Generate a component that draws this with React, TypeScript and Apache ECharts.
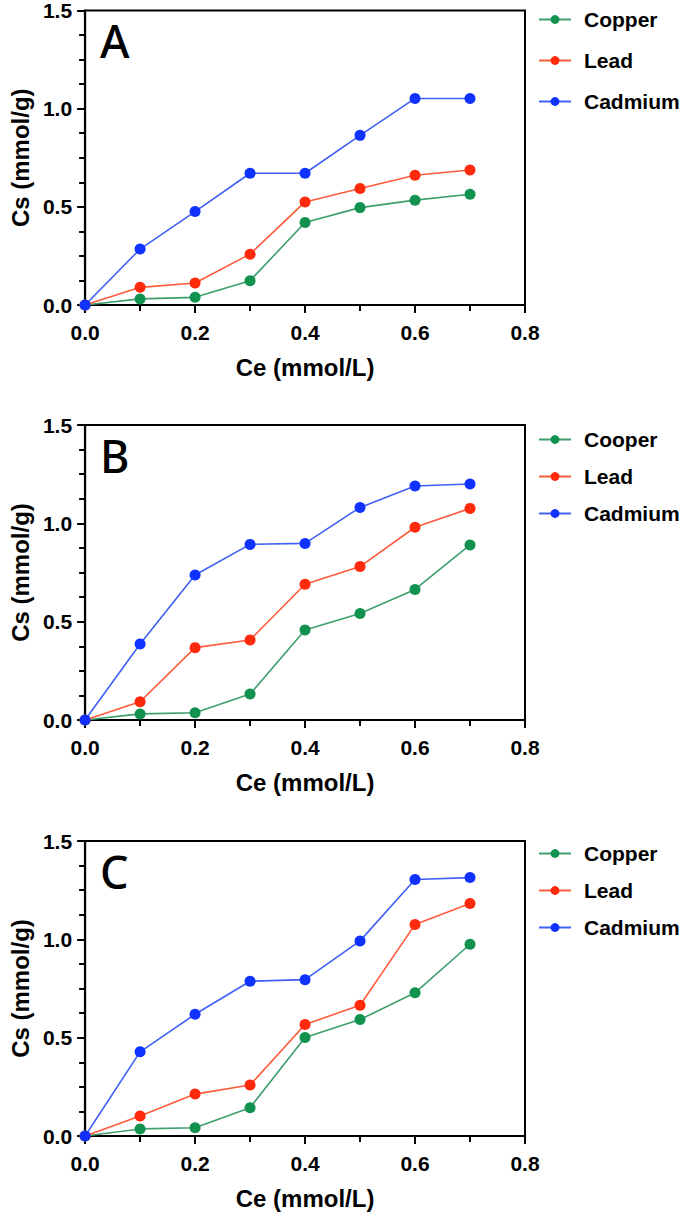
import React, { useEffect, useRef } from "react";
import * as echarts from "echarts";

const ce = [0, 0.1, 0.2, 0.3, 0.4, 0.5, 0.6, 0.7];

const copperA = [0, 0.031, 0.039, 0.124, 0.42, 0.496, 0.534, 0.564];
const leadA = [0, 0.09, 0.112, 0.259, 0.525, 0.593, 0.661, 0.688];
const cadmiumA = [0, 0.285, 0.476, 0.671, 0.671, 0.864, 1.052, 1.052];

const copperB = [0, 0.031, 0.037, 0.132, 0.458, 0.542, 0.664, 0.89];
const leadB = [0, 0.093, 0.368, 0.407, 0.69, 0.78, 0.98, 1.076];
const cadmiumB = [0, 0.386, 0.737, 0.893, 0.898, 1.081, 1.19, 1.2];

const copperC = [0, 0.036, 0.042, 0.144, 0.501, 0.592, 0.728, 0.975];
const leadC = [0, 0.102, 0.213, 0.259, 0.567, 0.665, 1.075, 1.182];
const cadmiumC = [0, 0.428, 0.619, 0.787, 0.795, 0.992, 1.304, 1.314];

const panelLetters = ["A", "B", "C"];
const copperNames = ["Copper", "Cooper", "Copper"];
const xTitle = "Ce (mmol/L)";
const yTitle = "Cs (mmol/g)";

const GREEN = "#12924f";
const RED = "#ff2a0c";
const BLUE = "#0f32ff";
const GREEN_L = "#3d9f6c";
const RED_L = "#ff5a3c";
const BLUE_L = "#4060f5";

const FONT = "'Liberation Sans', Arial, Helvetica, sans-serif";

export default function App() {
  const ref = useRef<HTMLDivElement>(null);
  useEffect(() => {
    document.body.style.margin = "0";
    if (!ref.current) return;
    const chart = echarts.init(ref.current, undefined, { renderer: "svg" });

    const tops = [10, 425, 841];
    const legendTops = [4, 424, 838];
    const legendGaps = [20, 16, 16];
    const sets = [
      [copperA, leadA, cadmiumA],
      [copperB, leadB, cadmiumB],
      [copperC, leadC, cadmiumC],
    ];

    const grid = tops.map((t) => ({
      left: 83,
      top: t,
      width: 442,
      height: 295,
      show: true,
      borderColor: "#000",
      borderWidth: 2,
      backgroundColor: "transparent",
    }));

    const axisLine = { show: true, lineStyle: { color: "#000", width: 2.2 } };

    const xAxis = tops.map((_, i) => ({
      type: "value",
      gridIndex: i,
      min: 0,
      max: 0.8,
      interval: 0.2,
      name: xTitle,
      nameLocation: "middle",
      nameGap: 50,
      nameTextStyle: { fontFamily: FONT, fontWeight: "bold", fontSize: 24, color: "#000" },
      axisLine,
      axisTick: { show: true, inside: false, length: 8, lineStyle: { color: "#000", width: 2 } },
      minorTick: { show: true, splitNumber: 2, length: 6, lineStyle: { color: "#000", width: 2 } },
      splitLine: { show: false },
      axisLabel: {
        margin: 17,
        fontFamily: FONT,
        fontWeight: "bold",
        fontSize: 21,
        color: "#000",
        formatter: (v: number) => v.toFixed(1),
      },
    }));

    const yAxis = tops.map((_, i) => ({
      type: "value",
      gridIndex: i,
      min: 0,
      max: 1.5,
      interval: 0.5,
      name: yTitle,
      nameLocation: "middle",
      nameGap: 45,
      nameTextStyle: { fontFamily: FONT, fontWeight: "bold", fontSize: 24, color: "#000" },
      axisLine,
      axisTick: { show: true, inside: false, length: 8, lineStyle: { color: "#000", width: 2 } },
      minorTick: { show: true, splitNumber: 4, length: 6, lineStyle: { color: "#000", width: 2 } },
      splitLine: { show: false },
      axisLabel: {
        margin: 13,
        fontFamily: FONT,
        fontWeight: "bold",
        fontSize: 21,
        color: "#000",
        formatter: (v: number) => v.toFixed(1),
      },
    }));

    const colors = [
      [GREEN, GREEN_L],
      [RED, RED_L],
      [BLUE, BLUE_L],
    ];

    const series: any[] = [];
    sets.forEach((set, i) => {
      const names = [copperNames[i], "Lead", "Cadmium"];
      set.forEach((vals, k) => {
        series.push({
          type: "line",
          name: names[k],
          xAxisIndex: i,
          yAxisIndex: i,
          data: ce.map((x, j) => [x, vals[j]]),
          symbol: "circle",
          symbolSize: 11,
          clip: false,
          itemStyle: { color: colors[k][0] },
          lineStyle: { color: colors[k][1], width: 1.6 },
          z: 3 + k,
        });
      });
    });

    const legend = tops.map((_, i) => ({
      orient: "vertical",
      left: 533,
      top: legendTops[i],
      itemWidth: 32,
      itemHeight: 11,
      itemGap: legendGaps[i],
      data: [copperNames[i], "Lead", "Cadmium"],
      textStyle: {
        fontFamily: FONT,
        fontWeight: "bold",
        fontSize: 21,
        color: "#000",
        lineHeight: 20,
        padding: [0, 0, 0, 8],
      },
      selectedMode: false,
    }));

    const graphic = tops.map((t, i) => ({
      type: "text",
      left: 100,
      top: t + 31 - 23,
      style: {
        text: panelLetters[i],
        fontFamily: "'Noto Sans', 'DejaVu Sans', sans-serif",
        fontWeight: 500,
        fontSize: 45,
        fill: "#000",
      },
    }));

    chart.setOption({
      animation: false,
      backgroundColor: "#fff",
      grid,
      xAxis,
      yAxis,
      legend,
      series,
      graphic,
    } as any);

    return () => chart.dispose();
  }, []);

  return <div ref={ref} style={{ width: 685, height: 1217 }} />;
}
